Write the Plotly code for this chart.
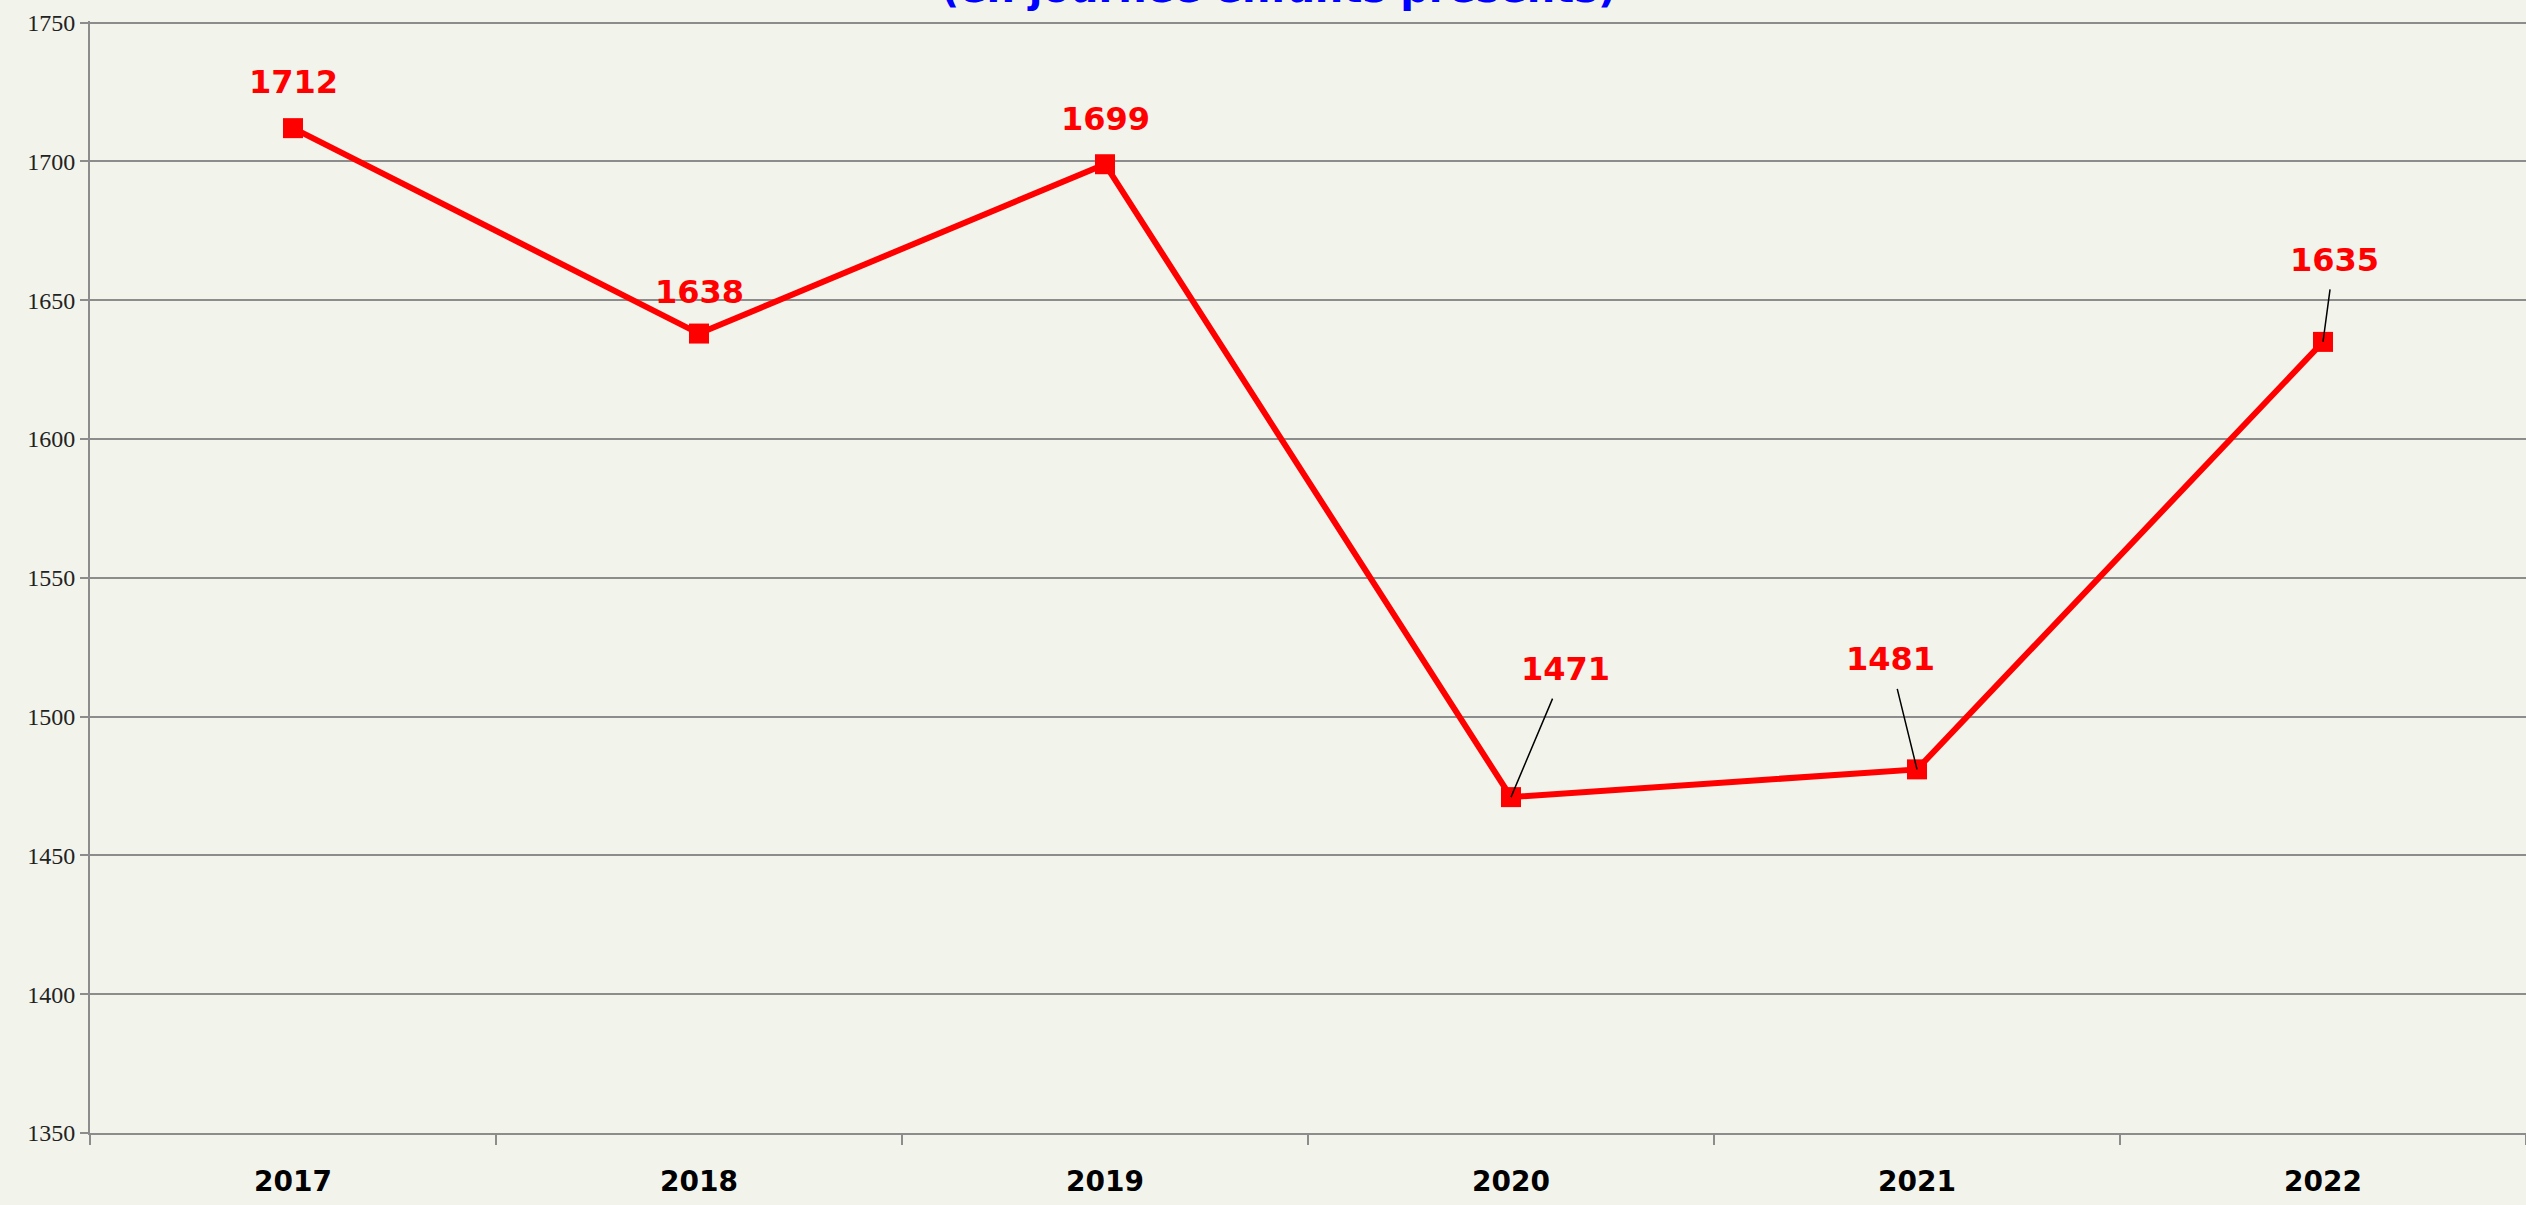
import plotly.graph_objects as go

years = ["2017", "2018", "2019", "2020", "2021", "2022"]
values = [1712, 1638, 1699, 1471, 1481, 1635]
title_text = "(en journée enfants présents)"
y_ticks = [1350, 1400, 1450, 1500, 1550, 1600, 1650, 1700, 1750]

# label placement (pixel offsets from the point)
label_dx = [0, 0, 0, 54, -27, 11]
label_dy = [-46, -42, -45, -128, -110, -82]
label_arrow = [False, False, False, True, True, True]

BG = "#F2F4EC"
GRID = "#8C8C8C"
FONT_LBL = "Comic Sans MS, DejaVu Sans, sans-serif"

fig = go.Figure()
fig.add_trace(go.Scatter(
    x=years, y=values, mode="lines+markers",
    line=dict(color="#FF0000", width=6),
    marker=dict(symbol="square", size=20, color="#FF0000"),
    hoverinfo="skip", showlegend=False,
))

annotations = []
for i, (v, dx, dy, arr) in enumerate(zip(values, label_dx, label_dy, label_arrow)):
    if arr:
        annotations.append(dict(
            x=i, y=v, xref="x", yref="y", text=f"<b>{v}</b>",
            showarrow=True, arrowhead=0, arrowwidth=1.5, arrowcolor="#000000",
            ax=dx, ay=dy, borderpad=10,
            font=dict(family=FONT_LBL, size=32, color="#FF0000"),
        ))
    else:
        annotations.append(dict(
            x=i, y=v, xref="x", yref="y", text=f"<b>{v}</b>",
            showarrow=False, xshift=dx, yshift=-dy,
            font=dict(family=FONT_LBL, size=32, color="#FF0000"),
        ))

annotations.append(dict(
    x=0.488, y=1, xref="paper", yref="paper", xanchor="center", yanchor="bottom",
    yshift=8, showarrow=False, text=f"<b>{title_text}</b>",
    font=dict(family=FONT_LBL, size=40, color="#0000FF"),
))

fig.update_layout(
    width=2526, height=1205,
    paper_bgcolor=BG, plot_bgcolor=BG,
    margin=dict(l=90, r=0, t=21, b=72),
    annotations=annotations,
    xaxis=dict(
        type="category", tickson="boundaries", ticks="outside", ticklen=10,
        tickcolor=GRID, tickwidth=2, showline=True, linecolor=GRID, linewidth=2,
        showgrid=False, tickfont=dict(family=FONT_LBL, size=28, color="#000000"),
        tickprefix="<b>", ticksuffix="</b>", range=[-0.5, 5.5],
        ticklabelstandoff=22,
    ),
    yaxis=dict(
        range=[1350, 1750.6], tickvals=y_ticks, ticks="outside", ticklen=8,
        tickcolor=GRID, tickwidth=2, showline=True, linecolor=GRID, linewidth=2,
        showgrid=True, gridcolor=GRID, gridwidth=2, zeroline=False,
        tickfont=dict(family="Liberation Serif, serif", size=24, color="#222222"),
        ticklabelstandoff=0,
    ),
)

fig.write_html(
    "out.html",
    config={"displayModeBar": False},
    post_script="document.body.style.margin='0';document.body.style.overflow='hidden';",
)
